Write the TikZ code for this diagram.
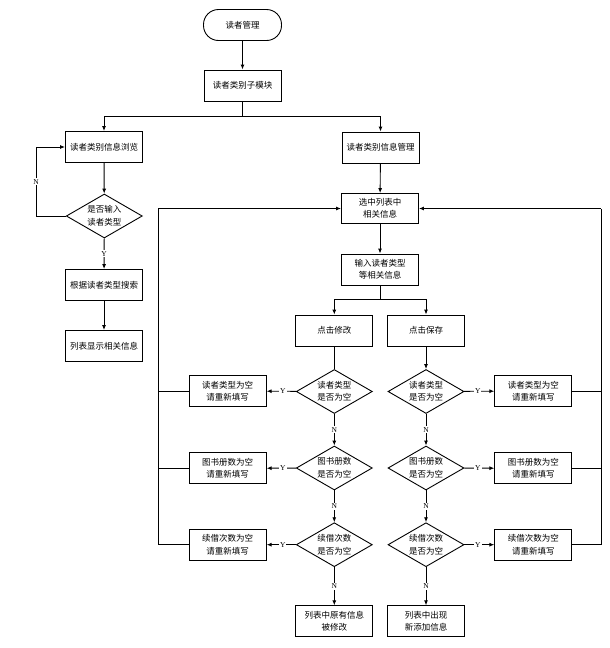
\documentclass[tikz,border=0pt]{standalone}
\usepackage{fontspec}
\setmainfont{Liberation Serif}
\newfontfamily\cjk{Noto Sans CJK SC}
\usetikzlibrary{shapes.geometric,arrows.meta}
\begin{document}
\begin{tikzpicture}[x=1pt,y=-1pt,
  box/.style={draw,line width=0.9pt,minimum width=77pt,minimum height=31pt,inner sep=1pt,align=center,font=\cjk\fontsize{8.5}{12.5}\selectfont},
  term/.style={box,rounded corners=15pt,minimum width=78pt},
  dia/.style={draw,line width=0.9pt,diamond,aspect=1.727,minimum width=76pt,minimum height=44pt,inner sep=0pt,align=center,font=\cjk\fontsize{8.5}{12.5}\selectfont},
  arr/.style={line width=0.9pt,-{Latex[length=5pt,width=4pt]}},
  ln/.style={line width=0.9pt},
  lab/.style={fill=white,inner sep=1pt,font=\fontsize{7.5}{8}\selectfont}
]
\useasboundingbox (0,0) rectangle (610,648);
% top
\node[term] (start) at (242.5,25) {读者管理};
\node[box] (sub) at (242.5,85.5) {读者类别子模块};
\node[box] (browse) at (104,147) {读者类别信息浏览};
\node[box] (manage) at (380.5,147.5) {读者类别信息管理};
% left branch
\node[dia] (dq) at (104.3,216) {是否输入\\读者类型};
\node[box] (search) at (104,285) {根据读者类型搜索};
\node[box] (listshow) at (104,346) {列表显示相关信息};
% right branch
\node[box,minimum height=30pt] (sel) at (380,208.5) {选中列表中\\相关信息};
\node[box] (inp) at (380,269.5) {输入读者类型\\等相关信息};
\node[box] (mod) at (334.3,330.5) {点击修改};
\node[box] (save) at (426,330.5) {点击保存};
\node[dia] (L1) at (334.3,391.5) {读者类型\\是否为空};
\node[dia] (L2) at (334.3,468) {图书册数\\是否为空};
\node[dia] (L3) at (334.3,544.7) {续借次数\\是否为空};
\node[dia] (R1) at (426,391.5) {读者类型\\是否为空};
\node[dia] (R2) at (426,468) {图书册数\\是否为空};
\node[dia] (R3) at (426,544.7) {续借次数\\是否为空};
\node[box] (LB1) at (227.7,391) {读者类型为空\\请重新填写};
\node[box] (LB2) at (227.7,468.3) {图书册数为空\\请重新填写};
\node[box] (LB3) at (227.7,544.7) {续借次数为空\\请重新填写};
\node[box] (RB1) at (533.3,391) {读者类型为空\\请重新填写};
\node[box] (RB2) at (533.3,468.3) {图书册数为空\\请重新填写};
\node[box] (RB3) at (533.3,544.7) {续借次数为空\\请重新填写};
\node[box] (FL) at (334.3,621.3) {列表中原有信息\\被修改};
\node[box] (FR) at (426,621.3) {列表中出现\\新添加信息};
% connectors top
\draw[arr] (start) -- (sub);
\coordinate (j1) at (242.5,116.7);
\draw[ln] (sub) -- (j1);
\draw[arr] (j1) -| (browse);
\draw[arr] (j1) -| (manage);
% left branch
\draw[arr] (browse) -- (dq);
\coordinate (nl) at (36,216);
\draw[arr] (dq.west) -- (nl) |- (browse.west);
\node[lab] at (36,181.7) {N};
\draw[arr] (dq) -- (search) node[lab,midway] {Y};
\draw[arr] (search) -- (listshow);
% right branch
\draw[arr] (manage) -- (sel);
\draw[arr] (sel) -- (inp);
\coordinate (j2) at (380,299.3);
\draw[ln] (inp) -- (j2);
\draw[arr] (j2) -| (mod);
\draw[arr] (j2) -| (save);
\draw[ln] (mod) -- (L1);
\draw[arr] (save) -- (R1);
\draw[arr] (L1) -- (L2) node[lab,midway] {N};
\draw[arr] (L2) -- (L3) node[lab,midway] {N};
\draw[arr] (L3) -- (FL) node[lab,midway] {N};
\draw[arr] (R1) -- (R2) node[lab,midway] {N};
\draw[arr] (R2) -- (R3) node[lab,midway] {N};
\draw[arr] (R3) -- (FR) node[lab,midway] {N};
\draw[arr] (L1) -- (LB1) node[lab,pos=0.45] {Y};
\draw[arr] (L2) -- (LB2) node[lab,pos=0.45] {Y};
\draw[arr] (L3) -- (LB3) node[lab,pos=0.45] {Y};
\draw[arr] (R1) -- (RB1) node[lab,pos=0.45] {Y};
\draw[arr] (R2) -- (RB2) node[lab,pos=0.45] {Y};
\draw[arr] (R3) -- (RB3) node[lab,pos=0.45] {Y};
% loops back to sel
\coordinate (lt) at (158.3,208.5);
\coordinate (lb) at (158.3,544.7);
\draw[ln] (LB3.west) -- (lb) -- (lt);
\draw[arr] (lt) -- (sel.west);
\draw[ln] (LB1.west) -- (LB1.west -| lt);
\draw[ln] (LB2.west) -- (LB2.west -| lt);
\coordinate (rt) at (601,208.5);
\coordinate (rb) at (601,544.7);
\draw[ln] (RB3.east) -- (rb) -- (rt);
\draw[arr] (rt) -- (sel.east);
\draw[ln] (RB1.east) -- (RB1.east -| rt);
\draw[ln] (RB2.east) -- (RB2.east -| rt);
\end{tikzpicture}
\end{document}
